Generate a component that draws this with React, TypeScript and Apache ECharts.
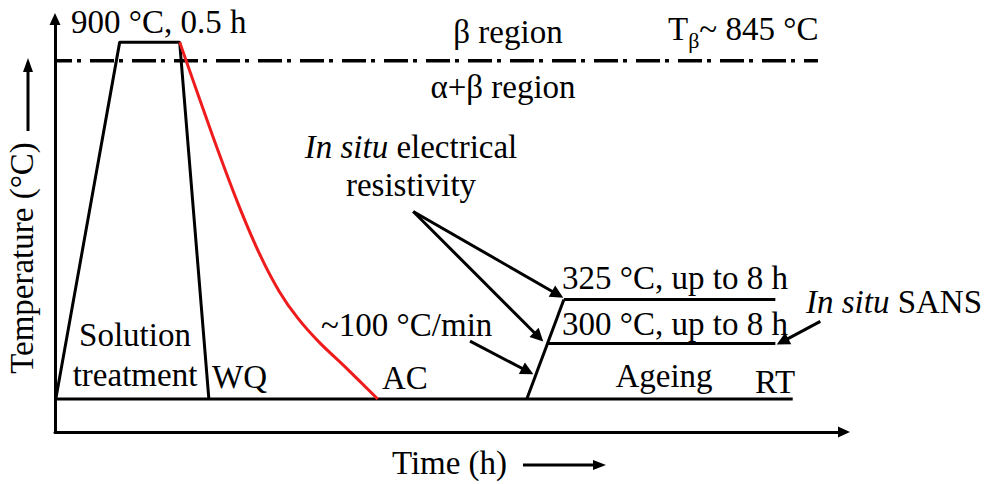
import { useEffect, useRef } from 'react';
import * as echarts from 'echarts';

// Schematic units: time 0–100 (arbitrary), temperature level 0–100 (arbitrary, not to scale)
const timeRange = [0, 100];
const tempRange = [0, 100];

// Solution treatment: heat up, hold at 900 °C for 0.5 h, water quench (WQ)
const solutionTreatment = [[0.1, 8.0], [8.2, 94.4], [15.8, 94.4], [19.5, 8.0]];
// Room temperature baseline
const roomTemperature = [[0, 8.0], [93.5, 8.0]];
// Air cooling (AC) from 900 °C
const airCooling = [
  [15.8, 94.4], [20.0, 71.6], [23.3, 54.8], [26.0, 42.8], [28.4, 34.1],
  [30.8, 27.5], [33.5, 21.7], [36.8, 15.7], [40.9, 8.0],
];
// Ageing: ramp (~100 °C/min) and isothermal holds
const ageingRamp = [[59.8, 8.0], [64.5, 32.1]];
const ageing325 = [[64.5, 32.1], [91.3, 32.1]];
const ageing300 = [[62.4, 21.4], [91.3, 21.4]];
// Beta transus (Tβ ~ 845 °C)
const betaTransus = [[0, 89.9], [96.7, 89.9]];
// Annotation arrows [from, to]
const arrowLinks = [
  [[45.4, 53.4], [63.7, 33.3]],
  [[45.4, 53.4], [61.3, 23.0]],
  [[52.6, 22.0], [59.9, 14.7]],
  [[97.0, 26.8], [92.2, 21.9]],
];

const FONT = '"Liberation Serif", "Times New Roman", Times, serif';
const FS = 33;

const tok = (extra: any = {}) => ({ fontSize: FS, fontFamily: FONT, fill: '#000', ...extra });

function txt(text: string, x: number, y: number, align: string = 'left', extra: any = {}) {
  return {
    type: 'text',
    x,
    y,
    silent: true,
    style: {
      text,
      fill: '#000',
      fontSize: FS,
      fontFamily: FONT,
      align,
      verticalAlign: 'middle',
      ...extra,
    },
  };
}

const blackLine = (data: number[][], extra: any = {}) => ({
  type: 'line',
  data,
  showSymbol: false,
  symbol: 'none',
  silent: true,
  lineStyle: { color: '#000', width: 3 },
  itemStyle: { color: '#000' },
  ...extra,
});

export default function App() {
  const ref = useRef<HTMLDivElement>(null);
  useEffect(() => {
    const chart = echarts.init(ref.current!, undefined, { renderer: 'svg' });
    const axisLine = {
      show: true,
      onZero: false,
      symbol: ['none', 'triangle'],
      symbolSize: [11, 12],
      lineStyle: { color: '#000', width: 3 },
    };
    chart.setOption({
      animation: false,
      backgroundColor: '#fff',
      textStyle: { fontFamily: FONT },
      grid: { left: 55, right: 142, top: 19, bottom: 51, containLabel: false },
      xAxis: {
        type: 'value',
        min: timeRange[0],
        max: timeRange[1],
        name: 'Time (h)',
        nameLocation: 'middle',
        nameGap: 14,
        nameTextStyle: { fontSize: FS, fontFamily: FONT, color: '#000' },
        axisLine,
        axisTick: { show: false },
        axisLabel: { show: false },
        splitLine: { show: false },
      },
      yAxis: {
        type: 'value',
        min: tempRange[0],
        max: tempRange[1],
        axisLine,
        axisTick: { show: false },
        axisLabel: { show: false },
        splitLine: { show: false },
      },
      series: [
        blackLine(betaTransus, { lineStyle: { color: '#000', width: 3.5, type: [24, 5, 4, 9], dashOffset: 7 } }),
        blackLine(roomTemperature),
        blackLine(solutionTreatment),
        blackLine(airCooling, { smooth: 0.3, lineStyle: { color: '#ee1c1c', width: 3 }, itemStyle: { color: '#ee1c1c' } }),
        blackLine(ageingRamp),
        blackLine(ageing325),
        blackLine(ageing300),
        {
          type: 'lines',
          coordinateSystem: 'cartesian2d',
          silent: true,
          symbol: ['none', 'triangle'],
          symbolSize: 13,
          lineStyle: { color: '#000', width: 3, opacity: 1, curveness: 0 },
          itemStyle: { color: '#000' },
          data: arrowLinks.map((c) => ({ coords: c })),
        },
      ],
      graphic: [
        txt('900 °C, 0.5 h', 71, 22),
        txt('β region', 508, 32, 'center'),
        txt('α+β region', 503, 87, 'center'),
        txt('{t|T}{s|β}{t|~ 845 °C}', 668, 29, 'left', {
          rich: {
            t: tok(),
            s: tok({ fontSize: 22, padding: [22, 0, 0, 0] }),
          },
        }),
        txt('{i|In situ}{n| electrical}\n{n|resistivity}', 411, 166, 'center', {
          lineHeight: 38,
          rich: {
            i: tok({ fontStyle: 'italic', lineHeight: 38 }),
            n: tok({ lineHeight: 38 }),
          },
        }),
        txt('325 °C, up to 8 h', 562, 278),
        txt('300 °C, up to 8 h', 562, 324),
        txt('~100 °C/min', 321, 325),
        txt('{i|In situ}{n| SANS}', 806, 302, 'left', {
          rich: { i: tok({ fontStyle: 'italic' }), n: tok() },
        }),
        txt('Solution\ntreatment', 135, 355, 'center', { lineHeight: 40 }),
        txt('WQ', 212, 377),
        txt('AC', 382, 378),
        txt('Ageing', 664, 376, 'center'),
        txt('RT', 755, 382),
        { ...txt('Temperature (°C)', 22, 258, 'center'), rotation: Math.PI / 2 },
        {
          type: 'line',
          silent: true,
          shape: { x1: 28, y1: 131, x2: 28, y2: 70 },
          style: { stroke: '#000', lineWidth: 3 },
        },
        {
          type: 'polygon',
          silent: true,
          shape: { points: [[28, 58], [23, 72], [33, 72]] },
          style: { fill: '#000' },
        },
        {
          type: 'line',
          silent: true,
          shape: { x1: 523, y1: 465, x2: 595, y2: 465 },
          style: { stroke: '#000', lineWidth: 3 },
        },
        {
          type: 'polygon',
          silent: true,
          shape: { points: [[606, 465], [593, 460], [593, 470]] },
          style: { fill: '#000' },
        },
      ],
    });
    return () => chart.dispose();
  }, []);
  return (
    <div
      ref={ref}
      style={{ position: 'absolute', left: 0, top: 0, width: 986, height: 484, background: '#fff' }}
    />
  );
}
